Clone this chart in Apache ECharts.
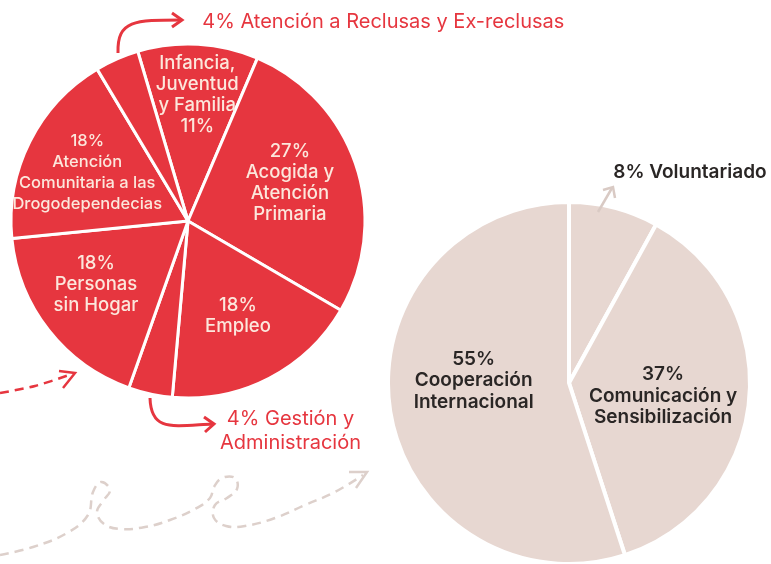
<!DOCTYPE html>
<html>
<head>
<meta charset="utf-8">
<script src="https://cdn.jsdelivr.net/npm/echarts@6/dist/echarts.min.js"></script>
<style>
html, body { margin: 0; padding: 0; background: #fff; }
#chart { width: 771px; height: 564px; }
</style>
</head>
<body>
<div id="chart"></div>
<script>
// reparto por áreas (izquierda)
const socialNames = ['Infancia,\nJuventud\ny Familia', 'Acogida y\nAtención\nPrimaria', 'Empleo',
  'Gestión y\nAdministración', 'Personas\nsin Hogar', 'Atención\nComunitaria a las\nDrogodependecias',
  'Atención a Reclusas y Ex-reclusas'];
const socialValues = [11, 27, 18, 4, 18, 18, 4];

// reparto por áreas (derecha)
const coopNames = ['Voluntariado', 'Comunicación y\nSensibilización', 'Cooperación\nInternacional'];
const coopValues = [8, 37, 55];

const red = '#E6363F';
const beige = '#E7D7D1';
const ink = '#2A2625';

// desplazamiento de las etiquetas respecto a su sitio "inside"
const socialShift = [[4, -35], [15, -9], [8, 14], [122, 121], [-20, 7], [-19, -7], [51, -115]];
const coopShift = [[21, -120], [1, 4], [-3, -17]];

const chart = echarts.init(document.getElementById('chart'));

const socialData = socialNames.map((n, i) => {
  const item = { name: n, value: socialValues[i] };
  if (socialValues[i] < 5) item.label = { color: red, fontSize: 20, fontWeight: 400, lineHeight: 24 };
  if (i === 5) item.label = { fontSize: 16.5 };
  return item;
});
const coopData = coopNames.map((n, i) => ({ name: n, value: coopValues[i] }));

const dashedBeige = { stroke: '#DDD0CB', lineWidth: 2.5, fill: null, lineDash: [9, 6] };

const option = {
  animation: false,
  backgroundColor: '#fff',
  textStyle: { fontFamily: 'Inter, "Noto Sans", sans-serif' },
  series: [
    {
      type: 'pie',
      center: [188, 221],
      radius: 177,
      startAngle: 106.5,
      clockwise: true,
      silent: true,
      itemStyle: { color: red, borderColor: '#fff', borderWidth: 3 },
      label: {
        position: 'inside',
        color: '#FCE7DC',
        fontSize: 18.5,
        fontWeight: 500,
        lineHeight: 21,
        formatter: p => {
          if (p.dataIndex === 0) return p.name + '\n' + p.value + '%';
          if (p.value < 5) return p.value + '% ' + p.name;
          return p.value + '%\n' + p.name;
        }
      },
      labelLayout: p => {
        const s = socialShift[p.dataIndex];
        const out = { dx: s[0], dy: s[1] };
        if (p.dataIndex === 6) out.align = 'left';
        return out;
      },
      data: socialData
    },
    {
      type: 'pie',
      center: [569, 383],
      radius: 181,
      startAngle: 90,
      clockwise: true,
      silent: true,
      itemStyle: { color: beige, borderColor: '#fff', borderWidth: 4 },
      label: {
        position: 'inside',
        color: ink,
        fontSize: 19,
        fontWeight: 600,
        lineHeight: 21.5,
        formatter: p => p.value < 10 ? p.value + '% ' + p.name : p.value + '%\n' + p.name
      },
      labelLayout: p => {
        const s = coopShift[p.dataIndex];
        const out = { dx: s[0], dy: s[1] };
        if (p.dataIndex === 0) out.align = 'left';
        return out;
      },
      data: coopData
    }
  ],
  graphic: [
    // flecha superior (reclusas)
    { type: 'bezierCurve', z: 10, shape: { x1: 118, y1: 53, cpx1: 117, cpy1: 20, cpx2: 135, cpy2: 20, x2: 181, y2: 20 },
      style: { stroke: red, lineWidth: 3, fill: null } },
    { type: 'polyline', z: 10, shape: { points: [[172, 13], [182, 20], [172, 27]] },
      style: { stroke: red, lineWidth: 3, fill: null } },
    // flecha inferior (gestión)
    { type: 'bezierCurve', z: 10, shape: { x1: 150, y1: 398, cpx1: 151, cpy1: 432, cpx2: 172, cpy2: 426, x2: 213, y2: 424 },
      style: { stroke: red, lineWidth: 3, fill: null } },
    { type: 'polyline', z: 10, shape: { points: [[204, 417], [214, 424], [205, 432]] },
      style: { stroke: red, lineWidth: 3, fill: null } },
    // flecha discontinua roja
    { type: 'polyline', z: 10, shape: { points: [[0, 393], [35, 386], [72, 374]], smooth: 0.3 },
      style: { stroke: red, lineWidth: 2.5, fill: null, lineDash: [9, 6] } },
    { type: 'polyline', z: 10, shape: { points: [[59, 371], [75, 373], [63, 388]] },
      style: { stroke: red, lineWidth: 2.5, fill: null } },
    // flecha discontinua beige con bucles
    { type: 'polyline', z: 10, shape: { smooth: 0.4, points: [[0, 555], [33, 547], [67, 533], [88, 515], [93, 492],
      [101, 482], [110, 490], [103, 501], [97, 512], [104, 524], [120, 529], [145, 527], [170, 520], [195, 509],
      [210, 498], [214, 487], [222, 478], [235, 478], [237, 489], [227, 498], [215, 505], [214, 518], [226, 526],
      [245, 526], [275, 518], [305, 505], [335, 492], [363, 475]] },
      style: dashedBeige },
    { type: 'polyline', z: 10, shape: { points: [[349, 472], [367, 472], [356, 488]] },
      style: { stroke: '#DDD0CB', lineWidth: 2.5, fill: null } },
    // flecha voluntariado
    { type: 'line', z: 10, shape: { x1: 598, y1: 212, x2: 612, y2: 188 },
      style: { stroke: '#D9CAC4', lineWidth: 2.5 } },
    { type: 'polyline', z: 10, shape: { points: [[603, 190], [613, 187], [615, 198]] },
      style: { stroke: '#D9CAC4', lineWidth: 2.5, fill: null } }
  ]
};

chart.setOption(option);
</script>
</body>
</html>
